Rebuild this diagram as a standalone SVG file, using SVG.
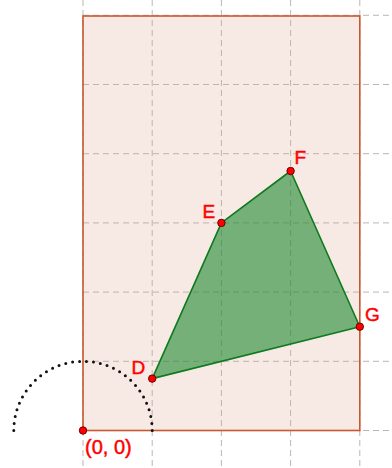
<svg xmlns="http://www.w3.org/2000/svg" width="392" height="468" viewBox="0 0 392 468">
<style>
.grid{stroke:#bdb5b0;stroke-width:1;stroke-dasharray:6 4;fill:none}
.pt{fill:#ff0000;stroke:#6b0000;stroke-width:1}
.lbl{font-family:"Liberation Sans",Arial,sans-serif;font-size:19px;fill:#ff0000;stroke:#ff0000;stroke-width:0.45}
</style>
<rect x="0" y="0" width="392" height="468" fill="#ffffff"/>
<g id="rectangle-fill">
<rect x="83" y="16" width="276.8" height="414.5" fill="#f7e9e4"/>
</g>
<g id="grid">
<path class="grid" d="M83,0V468M152.2,0V468M221.4,0V468M290.6,0V468M359.8,0V468"/>
<path class="grid" d="M83,430.5H392M83,361.3H392M83,292.1H392M83,222.9H392M83,153.7H392M83,84.5H392M83,15.3H392"/>
</g>
<g id="rectangle">
<rect x="83" y="16" width="276.8" height="414.5" fill="none" stroke="#c8592e" stroke-width="1.6"/>
</g>
<g id="arc">
<path d="M152.2,430.5 A69.2,69.2 0 0 0 13.8,430.5" fill="none" stroke="#111" stroke-width="3" stroke-linecap="round" stroke-dasharray="0 7"/>
</g>
<g id="connectors">
<polygon points="152.2,378.6 221.4,222.9 290.6,171 359.8,326.7" fill="#1e8a30" fill-opacity="0.6" stroke="#0f7a1f" stroke-width="1.6" stroke-linejoin="round"/>
</g>
<g id="origin">
<circle class="pt" cx="83" cy="430.5" r="3.7"/>
<text class="lbl" x="85" y="454" style="font-size:20px">(0, 0)</text>
</g>
<g id="D">
<circle class="pt" cx="152.2" cy="378.6" r="3.7"/>
<text class="lbl" x="131.5" y="374">D</text>
</g>
<g id="E">
<circle class="pt" cx="221.4" cy="222.9" r="3.7"/>
<text class="lbl" x="202.5" y="218">E</text>
</g>
<g id="F">
<circle class="pt" cx="290.6" cy="171" r="3.7"/>
<text class="lbl" x="294.5" y="164">F</text>
</g>
<g id="G">
<circle class="pt" cx="359.8" cy="326.7" r="3.7"/>
<text class="lbl" x="365" y="321">G</text>
</g>
</svg>
